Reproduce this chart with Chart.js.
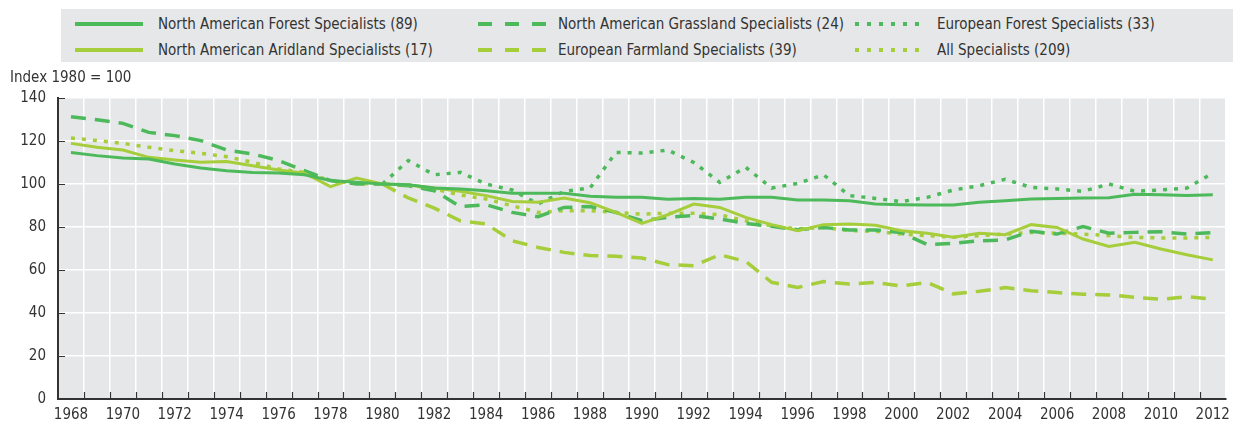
<!DOCTYPE html>
<html>
<head>
<meta charset="utf-8">
<script src="https://cdn.jsdelivr.net/npm/chart.js@4/dist/chart.umd.min.js"></script>
<style>
	body { margin: 0; background: #fff; }
	#wrap { position: relative; width: 1237px; height: 425px; font-family: "Liberation Sans Narrow", "DejaVu Sans Condensed", sans-serif; color: #333; }
	#legend { position: absolute; left: 61px; top: 9px; width: 1172px; height: 53px; background: #e6e7e8; }
	.lg-line { position: absolute; }
	.lg-text { position: absolute; font-size: 15px; line-height: 20px; white-space: nowrap; }
	#ytitle { position: absolute; left: 10px; top: 67px; font-size: 15px; line-height: 20px; }
	canvas { position: absolute; left: 0; top: 0; }
</style>
</head>
<body>
<div id="wrap">
	<canvas id="birdChart" width="1237" height="425"></canvas>
	<div id="legend"></div>
	<div id="ytitle">Index 1980 = 100</div>
</div>
<script>
// years on the x axis
var years = [];
for (var y = 1968; y <= 2012; y++) years.push(String(y));

// index values, 1980 = 100 (European series start in 1980)
var naForest = [114.7,113.2,112.1,111.6,109.3,107.4,106.2,105.4,105.1,104.3,101.6,100.8,100,
	99.7,98.1,97.7,96.9,95.7,95.7,95.7,94.3,93.8,93.8,92.9,93.2,92.9,93.8,93.8,92.6,
	92.6,92.2,90.7,90.4,90.2,90.2,91.5,92.2,93.0,93.3,93.5,93.6,95.2,95.0,94.7,95.0];
var naGrassland = [131.3,129.9,128.2,124.0,122.5,120.2,115.8,114.0,110.9,106.2,101.6,100,100,
	99.2,96.9,89.5,90.4,86.8,84.8,89.1,89.5,86.8,82.9,84.5,85.3,83.7,81.7,80.3,78.7,
	79.8,78.6,78.6,77.4,71.8,72.4,73.6,74.0,78.0,76.7,80.2,77.1,77.5,77.8,76.7,77.4];
var euForest = [null,null,null,null,null,null,null,null,null,null,null,null,100,
	110.9,104.3,105.4,100,97.2,90.7,96.6,98.1,114.7,114.4,115.8,110.0,100.8,107.8,98.1,100.3,
	104.3,94.6,93.3,91.8,93.8,97.2,99.2,102.2,98.4,97.7,96.6,100,96.6,97.2,98.1,105.0];
var naAridland = [118.9,117.1,115.8,112.4,111.2,110.1,110.5,108.5,106.5,105.0,98.8,102.8,100,
	99.5,98.1,96.6,94.6,91.9,91.5,93.5,91.3,86.8,81.7,85.7,90.7,89.1,84.5,81.1,78.3,
	81.1,81.4,80.8,78.3,77.1,75.2,77.1,76.4,81.1,79.8,74.4,70.9,72.9,69.8,67.1,64.7];
var euFarmland = [null,null,null,null,null,null,null,null,null,null,null,null,100,
	93.5,88.8,82.9,81.4,73.6,70.5,68.2,66.7,66.4,65.6,62.5,62.0,67.1,64.0,54.3,51.9,
	54.6,53.5,54.2,52.6,54.2,48.9,50.1,51.8,50.4,49.5,48.7,48.4,47.3,46.4,47.6,46.5];
var allSpecialists = [121.4,120.2,118.9,117.1,115.5,114.3,112.7,110.1,107.0,105.4,101.6,100.3,100,
	99.5,97.7,94.9,93.0,89.9,86.8,87.6,87.6,86.8,86.0,86.4,86.4,85.7,82.9,80.6,79.1,
	79.8,78.3,78.0,76.7,76.0,75.2,76.0,76.7,77.5,77.1,76.7,76.0,75.2,74.9,74.9,75.2];

var seriesNames = [
	'North American Forest Specialists (89)',
	'North American Aridland Specialists (17)',
	'North American Grassland Specialists (24)',
	'European Farmland Specialists (39)',
	'European Forest Specialists (33)',
	'All Specialists (209)'
];
var seriesData = [naForest, naAridland, naGrassland, euFarmland, euForest, allSpecialists];

var darkGreen = '#4cb95a';
var lightGreen = '#a6cd3a';
var seriesColors = [darkGreen, lightGreen, darkGreen, lightGreen, darkGreen, lightGreen];
var solid = [], dashed = [15, 9], dotted = [4, 7];
var seriesDash = [solid, solid, dashed, dashed, dotted, dotted];

var datasets = [];
for (var i = 0; i < seriesNames.length; i++) {
	datasets.push({
		label : seriesNames[i],
		data : seriesData[i],
		borderColor : seriesColors[i],
		backgroundColor : seriesColors[i],
		borderWidth : seriesDash[i] === solid ? 3 : 3.5,
		borderDash : seriesDash[i],
		pointRadius : 0,
		tension : 0,
		fill : false,
		spanGaps : false
	});
}

// html legend, three columns x two rows
var legend = document.getElementById('legend');
var colLine = [14, 417, 794], colText = [97, 497, 876], rowY = [15, 41];
for (var i = 0; i < seriesNames.length; i++) {
	var col = Math.floor(i / 2), row = i % 2;
	var svg = '<svg class="lg-line" width="70" height="6" style="left:' + colLine[col] + 'px;top:' + (rowY[row] - 3) + 'px">' +
		'<line x1="0" y1="3" x2="68" y2="3" stroke="' + seriesColors[i] + '" stroke-width="4"' +
		(seriesDash[i].length ? ' stroke-dasharray="' + (col === 1 ? '14,13' : '4,8') + '"' : '') + '/></svg>';
	legend.insertAdjacentHTML('beforeend', svg +
		'<div class="lg-text" style="left:' + colText[col] + 'px;top:' + (rowY[row] - 10) + 'px">' + seriesNames[i] + '</div>');
}

var plotBg = {
	id : 'plotBg',
	beforeDraw : function(chart) {
		var a = chart.chartArea, ctx = chart.ctx;
		ctx.save();
		ctx.fillStyle = '#e6e7e8';
		ctx.fillRect(a.left, a.top, a.right - a.left, a.bottom - a.top);
		ctx.restore();
	},
	beforeDatasetsDraw : function(chart) {
		var a = chart.chartArea, ctx = chart.ctx;
		var n = years.length, w = (a.right - a.left) / n;
		ctx.save();
		ctx.strokeStyle = '#333';
		ctx.lineWidth = 1.2;
		ctx.beginPath();
		for (var i = 1; i < n; i++) {
			var x = Math.round(a.left + i * w) + 0.5;
			ctx.moveTo(x, a.bottom);
			ctx.lineTo(x, a.bottom - 7);
		}
		var ys = chart.scales.y;
		for (var v = 20; v <= 140; v += 20) {
			var yy = Math.round(ys.getPixelForValue(v)) + 0.5;
			ctx.moveTo(a.left, yy);
			ctx.lineTo(a.left + 7, yy);
		}
		ctx.stroke();
		ctx.restore();
	}
};

var tickFont = { family : '"Liberation Sans Narrow", "DejaVu Sans Condensed", sans-serif', size : 15 };

new Chart(document.getElementById('birdChart'), {
	type : 'line',
	data : { labels : years, datasets : datasets },
	plugins : [ plotBg ],
	options : {
		responsive : false,
		animation : false,
		layout : { padding : { top : 98, right : 4, left : 0, bottom : 0 } },
		plugins : { legend : { display : false }, tooltip : { enabled : false } },
		scales : {
			x : {
				offset : true,
				grid : { offset : true, color : '#ffffff', lineWidth : 1.5, drawTicks : false, tickLength : 0 },
				border : { color : '#333', width : 2 },
				ticks : {
					color : '#333', font : tickFont, autoSkip : false, maxRotation : 0, padding : 7,
					callback : function(val, i) { return i % 2 === 0 ? this.getLabelForValue(val) : ''; }
				},
				afterFit : function(scale) { scale.height = 26; }
			},
			y : {
				min : 0, max : 140,
				grid : { color : '#ffffff', lineWidth : 1.5, drawTicks : false, tickLength : 0 },
				border : { color : '#333', width : 2 },
				ticks : { color : '#333', font : tickFont, stepSize : 20, padding : 12 },
				afterFit : function(scale) { scale.width = 58; }
			}
		}
	}
});
</script>
</body>
</html>
